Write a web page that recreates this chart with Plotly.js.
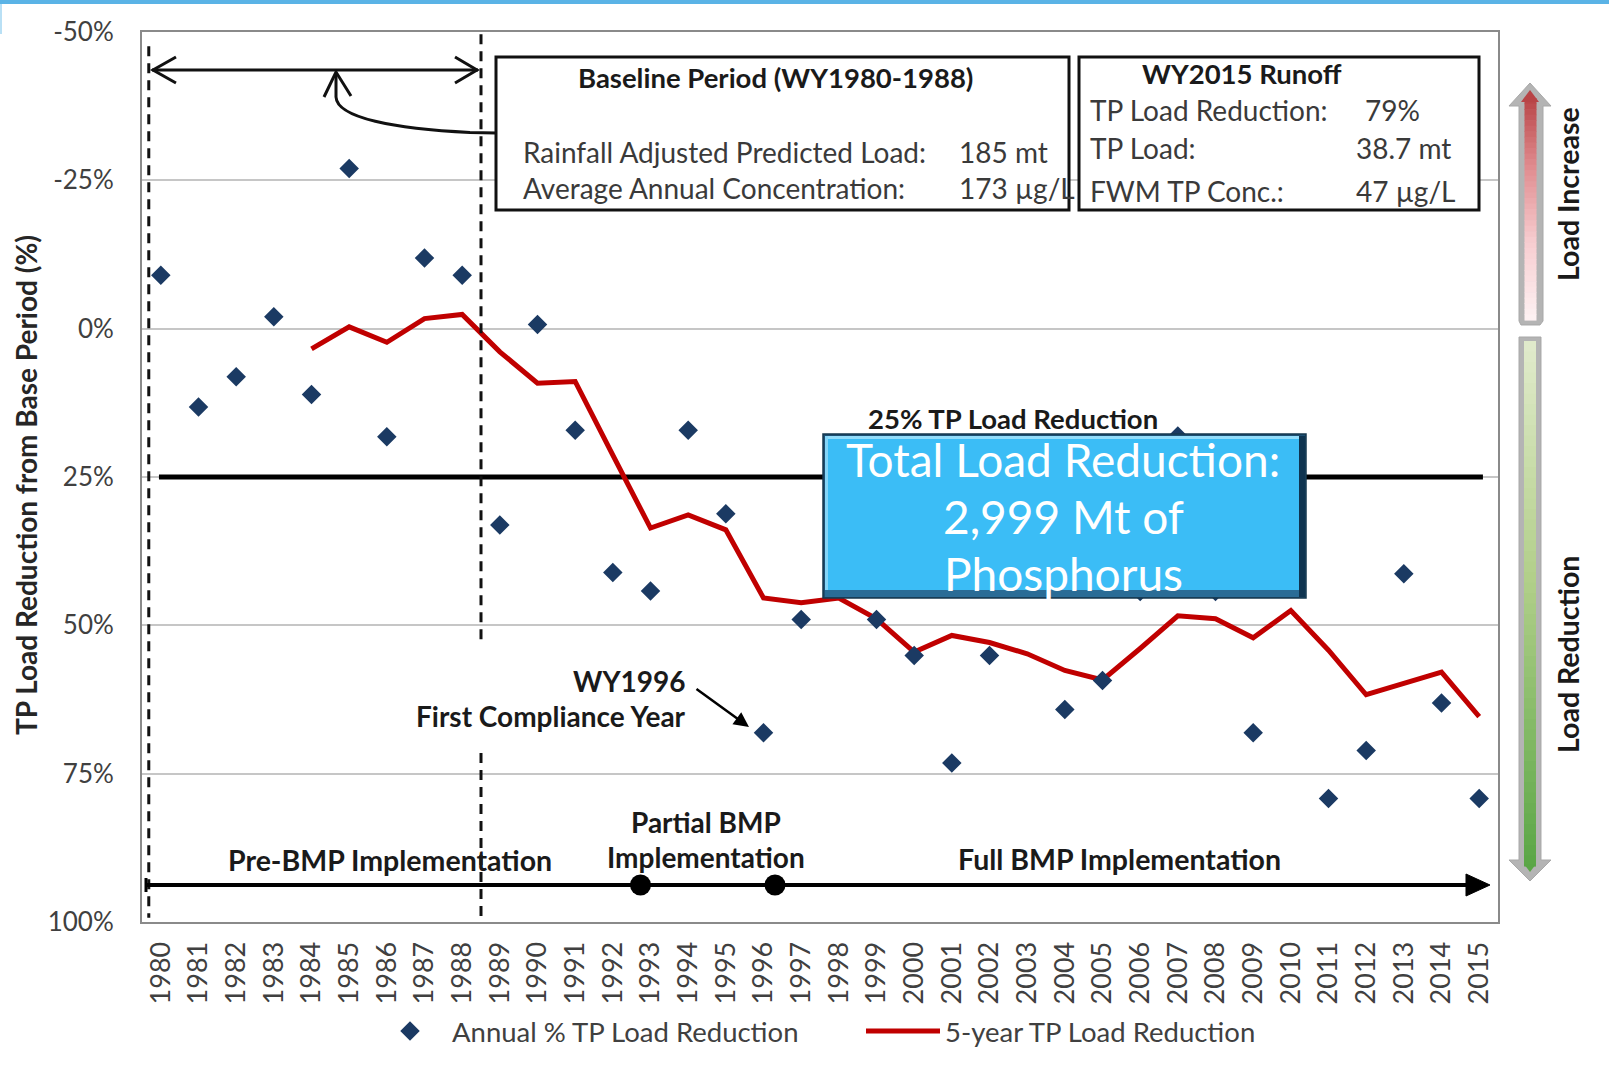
<!DOCTYPE html>
<html><head><meta charset="utf-8">
<script src="https://cdn.plot.ly/plotly-3.0.1.min.js"></script>
<style>html,body{margin:0;padding:0;background:#fff;} #chart{width:1609px;height:1082px;}</style>
</head><body><div id="chart"></div>
<script>
// ---------- data ----------
const years = ['1980','1981','1982','1983','1984','1985','1986','1987','1988','1989',
               '1990','1991','1992','1993','1994','1995','1996','1997','1998','1999',
               '2000','2001','2002','2003','2004','2005','2006','2007','2008','2009',
               '2010','2011','2012','2013','2014','2015'];
const annualReduction = [-9.0, 13.2, 8.1, -2.0, 11.1, -27.0, 18.2, -11.9, -9.0, 33.1,
                         -0.7, 17.1, 41.1, 44.2, 17.1, 31.2, 68.1, 49.0, 38.0, 49.0,
                         55.1, 73.2, 55.1, 42.0, 64.2, 59.3, 44.3, 18.1, 44.3, 68.1,
                         30.0, 79.2, 71.1, 41.3, 63.1, 79.2];
const fiveYearYears = ['1984','1985','1986','1987','1988','1989','1990','1991','1992','1993',
                       '1994','1995','1996','1997','1998','1999','2000','2001','2002','2003',
                       '2004','2005','2006','2007','2008','2009','2010','2011','2012','2013',
                       '2014','2015'];
const fiveYearReduction = [3.4, -0.3, 2.3, -1.7, -2.4, 3.9, 9.2, 8.9, 21.3, 33.6,
                           31.4, 33.9, 45.4, 46.2, 45.4, 48.9, 54.5, 51.7, 52.9, 54.8,
                           57.6, 59.2, 53.9, 48.4, 48.9, 52.1, 47.5, 54.2, 61.7, 59.8,
                           57.9, 65.4];
const yTickVals = [-50, -25, 0, 25, 50, 75, 100];
const yTickText = ['-50%', '-25%', '0%', '25%', '50%', '75%', '100%'];
const targetReduction = 25;

// ---------- layout helpers (pixel -> paper) ----------
const W = 1609, H = 1082, L = 142, R = 111, T = 32, B = 160;
const PW = W - L - R, PH = H - T - B;
const px = x => (x - L) / PW;
const py = y => (H - B - y) / PH;
const FONT = 'Lato, "Open Sans", sans-serif';
function path(pts, close) {
  return 'M' + pts.map(p => px(p[0]).toFixed(5) + ',' + py(p[1]).toFixed(5)).join(' L') + (close ? ' Z' : '');
}
function pshape(pts, opts) {
  return Object.assign({type: 'path', xref: 'paper', yref: 'paper', path: path(pts, opts.close),
    layer: 'above'}, opts.s);
}
function rect(x0, y0, x1, y1, fill, line) {
  return {type: 'rect', xref: 'paper', yref: 'paper', x0: px(x0), x1: px(x1), y0: py(y0), y1: py(y1),
    fillcolor: fill, line: line || {width: 0}, layer: 'above'};
}
function hexToRgb(h) { h = h.replace('#',''); return [0,2,4].map(i => parseInt(h.substr(i,2),16)); }
function colorAt(stops, t) {
  for (let i = 0; i < stops.length - 1; i++) {
    const [t0, c0] = stops[i], [t1, c1] = stops[i+1];
    if (t >= t0 && t <= t1) {
      const f = (t - t0) / (t1 - t0), a = hexToRgb(c0), b = hexToRgb(c1);
      return 'rgb(' + a.map((v,k) => Math.round(v + (b[k]-v)*f)).join(',') + ')';
    }
  }
  return stops[stops.length-1][1];
}
function gradientStrip(x0, x1, yTop, yBot, stops, n) {
  const out = [], h = (yBot - yTop) / n;
  for (let i = 0; i < n; i++) {
    out.push(rect(x0, yTop + i*h, x1, yTop + (i+1)*h + 0.6, colorAt(stops, (i+0.5)/n)));
  }
  return out;
}
function ann(text, x, y, o) {
  o = o || {};
  return Object.assign({xref: 'paper', yref: 'paper', x: px(x), y: py(y), text: text, showarrow: false,
    xanchor: 'center', yanchor: 'middle',
    font: {family: FONT, size: o.size || 28, color: o.color || '#333333'}}, o.extra || {});
}

// ---------- traces ----------
const traces = [
  {type: 'scatter', mode: 'lines', name: '5-year TP Load Reduction',
   x: fiveYearYears, y: fiveYearReduction,
   line: {color: '#c00000', width: 5}},
  {type: 'scatter', mode: 'markers', name: 'Annual % TP Load Reduction',
   x: years, y: annualReduction,
   marker: {symbol: 'diamond', size: 15, color: '#1b3a63', line: {width: 0}}}
];

// ---------- shapes ----------
const shapes = [];
// top blue strip of the slide
shapes.push(rect(0, 0, W, 4, '#5ab3e6'));
shapes.push(rect(0, 4, 2, 34, '#b9e0f5'));
// 25% target line
shapes.push({type: 'line', xref: 'x', yref: 'y', x0: -0.05, x1: 35.1, y0: targetReduction, y1: targetReduction,
  line: {color: '#000', width: 5}, layer: 'between'});
// dashed period lines
shapes.push({type: 'line', xref: 'x', yref: 'y', x0: -0.32, x1: -0.32, y0: -47.6, y1: 99.3,
  line: {color: '#111', width: 3, dash: '10px,7px'}, layer: 'above'});
shapes.push({type: 'line', xref: 'x', yref: 'y', x0: 8.5, x1: 8.5, y0: -49.6, y1: 53.0,
  line: {color: '#111', width: 3, dash: '10px,7px'}, layer: 'above'});
shapes.push({type: 'line', xref: 'x', yref: 'y', x0: 8.5, x1: 8.5, y0: 71.5, y1: 100,
  line: {color: '#111', width: 3, dash: '10px,7px'}, layer: 'above'});
// double arrow over baseline period
const blk = {line: {color: '#111', width: 3}};
shapes.push(pshape([[152, 70], [478, 70]], {s: blk}));
shapes.push(pshape([[176, 57], [153, 70], [176, 83]], {s: blk}));
shapes.push(pshape([[455, 57], [477, 70], [455, 83]], {s: blk}));
// curved connector from box to arrow
shapes.push({type: 'path', xref: 'paper', yref: 'paper', layer: 'above', line: {color: '#111', width: 3},
  path: 'M' + px(496) + ',' + py(133) + ' L' + px(470) + ',' + py(132.5) +
        ' C' + px(395) + ',' + py(129) + ' ' + px(337) + ',' + py(118) + ' ' + px(336) + ',' + py(97) +
        ' L' + px(336) + ',' + py(73)});
shapes.push(pshape([[324, 97], [336, 72], [351, 96]], {s: blk}));
// info boxes
shapes.push(rect(496, 57, 1069, 210, '#ffffff', {color: '#111', width: 3}));
shapes.push(rect(1079, 57, 1479, 210, '#ffffff', {color: '#111', width: 3}));
// bottom implementation timeline
shapes.push(pshape([[146, 885], [1470, 885]], {s: {line: {color: '#000', width: 4}}}));
shapes.push(pshape([[146, 878], [146, 892]], {s: {line: {color: '#000', width: 3}}}));
shapes.push(pshape([[1466, 874], [1490, 885], [1466, 896]], {close: true, s: {fillcolor: '#000', line: {color: '#000', width: 1}}}));
shapes.push({type: 'circle', xref: 'paper', yref: 'paper', layer: 'above', fillcolor: '#000', line: {width: 0},
  x0: px(630), x1: px(651), y0: py(874.5), y1: py(895.5)});
shapes.push({type: 'circle', xref: 'paper', yref: 'paper', layer: 'above', fillcolor: '#000', line: {width: 0},
  x0: px(764.5), x1: px(785.5), y0: py(874.5), y1: py(895.5)});
// blue summary box with bevel
shapes.push(rect(823, 434, 1306, 598, '#1d4f73', {color: '#16384f', width: 1.5}));
shapes.push(rect(825, 436, 1299, 590, '#3bbdf6'));
shapes.push(rect(825, 590, 1303, 597, '#2a6c96'));
shapes.push(rect(1299, 436, 1305, 597, '#0f3450'));
shapes.push(rect(825, 436, 1299, 439, '#92dcfa'));
shapes.push(rect(825, 436, 828, 590, '#84d5f8'));
// right side load arrows
const grey = {fillcolor: '#b4b4b4', line: {color: '#a8a8a8', width: 1}};
shapes.push(pshape([[1530, 83], [1551, 106], [1543, 106], [1543, 321], [1540, 325], [1521, 325], [1519, 321],
                    [1519, 106], [1509, 106]], {close: true, s: grey}));
gradientStrip(1524.5, 1536.5, 98, 320, [[0, '#b84446'], [0.3, '#df8a8d'], [0.65, '#f7cdd0'], [1, '#fdf2f3']], 40)
  .forEach(s => shapes.push(s));
shapes.push(pshape([[1530, 90], [1539, 102], [1521, 102]], {close: true, s: {fillcolor: '#b84446', line: {width: 0}}}));
shapes.push(pshape([[1519, 337], [1541, 337], [1541, 860], [1551, 860], [1530, 881], [1509, 860], [1519, 860]],
                   {close: true, s: grey}));
gradientStrip(1524, 1536, 341, 866, [[0, '#e1ebcc'], [0.45, '#b2cf8a'], [1, '#5aa646']], 50)
  .forEach(s => shapes.push(s));
shapes.push(pshape([[1524, 864], [1536, 864], [1530, 872]], {close: true, s: {fillcolor: '#5aa646', line: {width: 0}}}));

// ---------- annotations ----------
const dark = '#1a1a1a', body = '#3a3a3a';
const annotations = [
  ann('<b>TP Load Reduction from Base Period (%)</b>', 26, 485, {size: 28, color: '#262626', extra: {textangle: -90}}),
  ann('<b>Baseline Period (WY1980-1988)</b>', 775, 78, {size: 27.5, color: dark}),
  ann('Rainfall Adjusted Predicted Load:', 521, 152, {extra: {xanchor: 'left'}, color: body}),
  ann('185 mt', 957, 152, {extra: {xanchor: 'left'}, color: body}),
  ann('Average Annual Concentration:', 521, 188, {extra: {xanchor: 'left'}, color: body}),
  ann('173 µg/L', 957, 188, {extra: {xanchor: 'left'}, color: body}),
  ann('<b>WY2015 Runoff</b>', 1242, 74, {size: 27.5, color: dark}),
  ann('TP Load Reduction:', 1088, 110, {extra: {xanchor: 'left'}, color: body}),
  ann('79%', 1363, 110, {extra: {xanchor: 'left'}, color: body}),
  ann('TP Load:', 1088, 148, {extra: {xanchor: 'left'}, color: body}),
  ann('38.7 mt', 1354, 148, {extra: {xanchor: 'left'}, color: body}),
  ann('FWM TP Conc.:', 1088, 191, {extra: {xanchor: 'left'}, color: body}),
  ann('47 µg/L', 1354, 191, {extra: {xanchor: 'left'}, color: body}),
  ann('<b>25% TP Load Reduction</b>', 1013, 418, {size: 27.5, color: dark}),
  ann('Total Load Reduction:', 1063, 459, {size: 46, color: '#ffffff'}),
  ann('2,999 Mt of', 1063, 516, {size: 46, color: '#ffffff'}),
  ann('Phosphorus', 1063, 573, {size: 46, color: '#ffffff'}),
  ann('<b>WY1996</b>', 688, 681, {size: 28, color: dark, extra: {xanchor: 'right'}}),
  ann('<b>First Compliance Year</b>', 688, 716, {size: 28, color: dark, extra: {xanchor: 'right'}}),
  {xref: 'paper', yref: 'paper', x: px(749), y: py(727), ax: -54, ay: -39, axref: 'pixel', ayref: 'pixel',
   text: '', showarrow: true, arrowhead: 2, arrowsize: 1.2, arrowwidth: 2.5, arrowcolor: '#000'},
  ann('<b>Pre-BMP Implementation</b>', 390, 860, {size: 28.5, color: dark}),
  ann('<b>Partial BMP</b>', 706, 822, {size: 28, color: dark}),
  ann('<b>Implementation</b>', 706, 857, {size: 28, color: dark}),
  ann('<b>Full BMP Implementation</b>', 1119, 859, {size: 28.5, color: dark}),
  ann('<b>Load Increase</b>', 1568, 194, {size: 28.5, color: dark, extra: {textangle: -90}}),
  ann('<b>Load Reduction</b>', 1568, 654, {size: 28.5, color: dark, extra: {textangle: -90}})
];

const layout = {
  width: W, height: H,
  margin: {l: L, r: R, t: T, b: B, pad: 0},
  paper_bgcolor: '#ffffff', plot_bgcolor: '#ffffff',
  font: {family: FONT, color: '#404040'},
  showlegend: true,
  legend: {orientation: 'h', traceorder: 'reversed', x: px(368), y: py(1031), xanchor: 'left', yanchor: 'middle',
           font: {family: FONT, size: 27.5, color: '#404040'}, itemwidth: 74, entrywidth: 404,
           bgcolor: 'rgba(0,0,0,0)'},
  xaxis: {type: 'category', categoryorder: 'array', categoryarray: years,
          range: [-0.5, 35.5], tickangle: -90, automargin: false,
          tickfont: {family: FONT, size: 27, color: '#404040'},
          ticks: 'outside', ticklen: 7, tickcolor: 'rgba(0,0,0,0)',
          showgrid: false, showline: true, mirror: true, linecolor: '#8a8a8a', linewidth: 2, zeroline: false},
  yaxis: {range: [100, -50], tickvals: yTickVals, ticktext: yTickText, automargin: false,
          tickfont: {family: FONT, size: 26, color: '#404040'},
          ticks: 'outside', ticklen: 21, tickcolor: 'rgba(0,0,0,0)',
          showgrid: true, gridcolor: '#c6c6c6', gridwidth: 2,
          showline: true, mirror: true, linecolor: '#8a8a8a', linewidth: 2, zeroline: false},
  shapes: shapes,
  annotations: annotations,
  hovermode: false
};

Plotly.newPlot('chart', traces, layout, {displayModeBar: false, staticPlot: true});
</script>
</body></html>
